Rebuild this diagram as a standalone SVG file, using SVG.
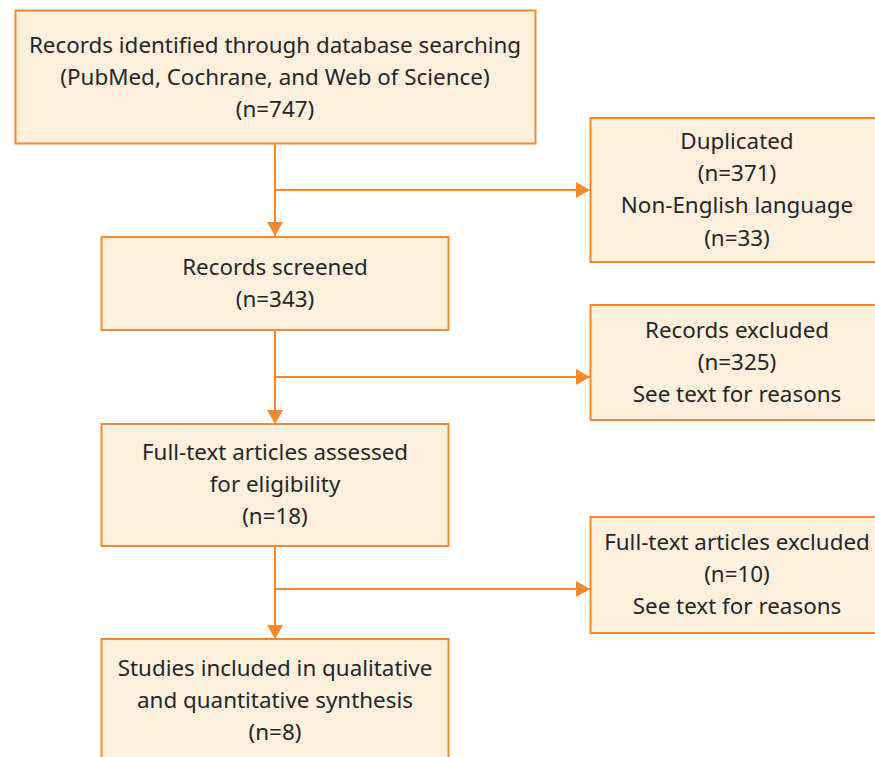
<svg xmlns="http://www.w3.org/2000/svg" width="875" height="757" viewBox="0 0 875 757">
<defs>
<marker id="ah" markerWidth="16" markerHeight="16" refX="14" refY="8" orient="auto" markerUnits="userSpaceOnUse">
<path d="M0,0 L14,8 L0,16 Z" fill="#F5892C"/>
</marker>
<style>
.box{fill:#FDF0DD;stroke:#F5892C;stroke-width:2}
.t{font-family:"Noto Sans","Open Sans",sans-serif;font-size:22.4px;fill:#262626;text-anchor:middle}
.c{stroke:#F5892C;stroke-width:2;fill:none}
</style>
</defs>
<rect width="875" height="757" fill="#FFFFFF"/>
<g id="connectors">
<line class="c" x1="275" y1="143" x2="275" y2="236" marker-end="url(#ah)"/>
<line class="c" x1="275" y1="190" x2="590" y2="190" marker-end="url(#ah)"/>
<line class="c" x1="275" y1="330" x2="275" y2="424" marker-end="url(#ah)"/>
<line class="c" x1="275" y1="377" x2="590" y2="377" marker-end="url(#ah)"/>
<line class="c" x1="275" y1="546" x2="275" y2="639" marker-end="url(#ah)"/>
<line class="c" x1="275" y1="589" x2="590" y2="589" marker-end="url(#ah)"/>
</g>
<g id="n1">
<rect class="box" x="15.5" y="10.5" width="520" height="133"/>
<text class="t" x="275" y="53">Records identified through database searching</text>
<text class="t" x="275" y="85">(PubMed, Cochrane, and Web of Science)</text>
<text class="t" x="275" y="117">(n=747)</text>
</g>
<g id="n2">
<rect class="box" x="101.5" y="237" width="347" height="93"/>
<text class="t" x="275" y="275">Records screened</text>
<text class="t" x="275" y="307">(n=343)</text>
</g>
<g id="n3">
<rect class="box" x="101.5" y="424" width="347" height="122"/>
<text class="t" x="275" y="460">Full-text articles assessed</text>
<text class="t" x="275" y="492">for eligibility</text>
<text class="t" x="275" y="524">(n=18)</text>
</g>
<g id="n4">
<rect class="box" x="101.5" y="639" width="347" height="130"/>
<text class="t" x="275" y="676">Studies included in qualitative</text>
<text class="t" x="275" y="708">and quantitative synthesis</text>
<text class="t" x="275" y="740">(n=8)</text>
</g>
<g id="r1">
<rect class="box" x="590.5" y="118" width="300" height="144"/>
<text class="t" x="737" y="149">Duplicated</text>
<text class="t" x="737" y="181">(n=371)</text>
<text class="t" x="737" y="213">Non-English language</text>
<text class="t" x="737" y="246">(n=33)</text>
</g>
<g id="r2">
<rect class="box" x="590.5" y="305" width="300" height="115"/>
<text class="t" x="737" y="338">Records excluded</text>
<text class="t" x="737" y="370">(n=325)</text>
<text class="t" x="737" y="402">See text for reasons</text>
</g>
<g id="r3">
<rect class="box" x="590.5" y="517" width="300" height="116"/>
<text class="t" x="737" y="550">Full-text articles excluded</text>
<text class="t" x="737" y="582">(n=10)</text>
<text class="t" x="737" y="614">See text for reasons</text>
</g>
</svg>
